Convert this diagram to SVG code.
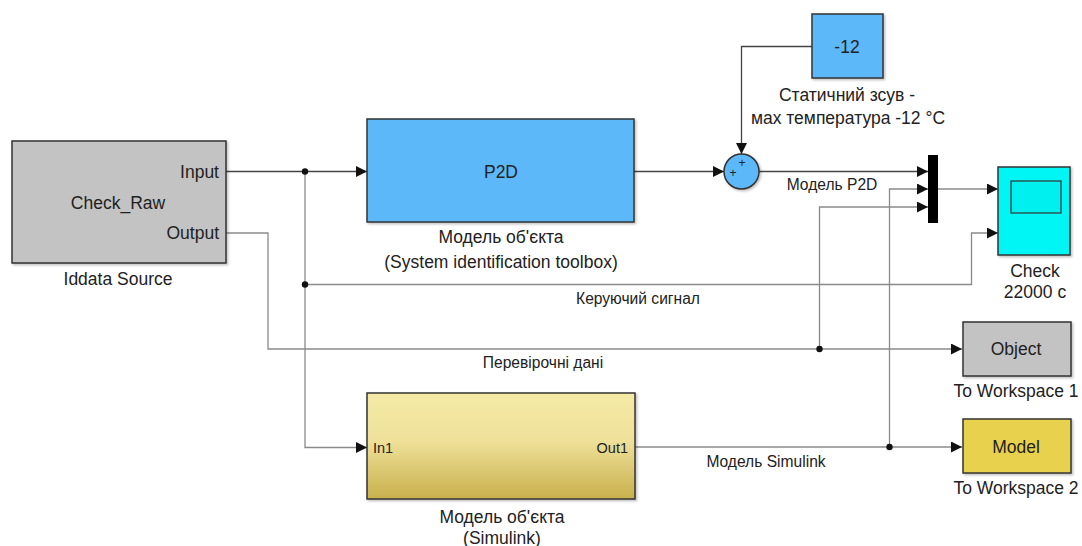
<svg xmlns="http://www.w3.org/2000/svg" width="1082" height="546" viewBox="0 0 1082 546">
<style>
  text { font-family: "Liberation Sans", Arial, sans-serif; fill: #222; }
  .lbl { font-size: 17.5px; }
  .sm { font-size: 15.6px; }
  .io { font-size: 14.5px; }
  .blk { stroke: #333; stroke-width: 1.5; }
  .wire { fill: none; stroke: #8a8a8a; stroke-width: 1.3; }
  .dark { stroke: #444; }
  .dot { fill: #111; }
</style>
<defs>
  <marker id="arr" markerUnits="userSpaceOnUse" markerWidth="11" markerHeight="11" refX="11" refY="5.5" orient="auto">
    <path d="M0,0 L11,5.5 L0,11 z" fill="#111"/>
  </marker>
  <linearGradient id="subsys" x1="0" y1="0" x2="0" y2="1">
    <stop offset="0" stop-color="#f4eaa6"/>
    <stop offset="0.45" stop-color="#efe19a"/>
    <stop offset="1" stop-color="#c8b04c"/>
  </linearGradient>
  <filter id="sh" x="-5%" y="-5%" width="115%" height="120%">
    <feDropShadow dx="1.5" dy="1.5" stdDeviation="1" flood-color="#000" flood-opacity="0.25"/>
  </filter>
</defs>

<g id="connectors">
  <path class="wire dark" d="M226,171.5 H367" marker-end="url(#arr)"/>
  <path class="wire" d="M305,171.5 V447.5 H367" marker-end="url(#arr)"/>
  <path class="wire" d="M305,284.5 H971.5 V233 H998" marker-end="url(#arr)"/>
  <path class="wire" d="M226,233 H268 V349 H962" marker-end="url(#arr)"/>
  <path class="wire" d="M819.5,349 V207 H928" marker-end="url(#arr)"/>
  <path class="wire dark" d="M634,171.5 H724" marker-end="url(#arr)"/>
  <path class="wire dark" d="M812,46.5 H741.5 V154" marker-end="url(#arr)"/>
  <path class="wire dark" d="M759,171.5 H928" marker-end="url(#arr)"/>
  <path class="wire" d="M938,189 H998" marker-end="url(#arr)"/>
  <path class="wire" d="M635,447 H962" marker-end="url(#arr)"/>
  <path class="wire" d="M889.5,447 V189 H928" marker-end="url(#arr)"/>
  <circle class="dot" cx="305" cy="171.5" r="3.2"/>
  <circle class="dot" cx="305" cy="284.5" r="3.2"/>
  <circle class="dot" cx="819.5" cy="349" r="3.2"/>
  <circle class="dot" cx="889.5" cy="447" r="3.2"/>
  <text class="sm" x="832" y="190" text-anchor="middle">Модель P2D</text>
  <text class="sm" x="638" y="304" text-anchor="middle">Керуючий сигнал</text>
  <text class="sm" x="543" y="368" text-anchor="middle">Перевірочні дані</text>
  <text class="sm" x="766" y="467" text-anchor="middle">Модель Simulink</text>
</g>

<g id="iddata">
  <rect class="blk" x="12" y="141" width="214" height="122" fill="#c3c3c3" filter="url(#sh)"/>
  <text class="lbl" x="219" y="178" text-anchor="end">Input</text>
  <text class="lbl" x="219" y="239" text-anchor="end">Output</text>
  <text class="lbl" x="118" y="209" text-anchor="middle">Check_Raw</text>
  <text class="lbl" x="118" y="285" text-anchor="middle">Iddata Source</text>
</g>

<g id="p2d">
  <rect class="blk" x="367" y="119" width="267" height="103" fill="#5cb8f8" filter="url(#sh)"/>
  <text class="lbl" x="501" y="178" text-anchor="middle">P2D</text>
  <text class="lbl" x="501" y="243" text-anchor="middle">Модель об'єкта</text>
  <text class="lbl" x="501" y="268" text-anchor="middle">(System identification toolbox)</text>
</g>

<g id="const">
  <rect class="blk" x="812" y="14" width="71" height="64" fill="#5cb8f8" filter="url(#sh)"/>
  <text class="lbl" x="847" y="53" text-anchor="middle">-12</text>
  <text class="lbl" x="847" y="101" text-anchor="middle">Статичний зсув -</text>
  <text class="lbl" x="848" y="124" text-anchor="middle">мах температура -12 °С</text>
</g>

<g id="sum">
  <circle class="blk" cx="741.5" cy="171.5" r="17.5" fill="#5cb8f8" filter="url(#sh)"/>
  <text x="742" y="167" font-size="12" text-anchor="middle">+</text>
  <text x="733" y="177" font-size="12" text-anchor="middle">+</text>
</g>

<g id="mux">
  <rect x="928" y="155" width="10" height="68" fill="#000"/>
</g>

<g id="scope">
  <rect class="blk" x="998" y="167" width="72" height="88" fill="#00f5f5" filter="url(#sh)"/>
  <rect x="1011" y="181" width="50" height="32" fill="#00f0f0" stroke="#333" stroke-width="1.2"/>
  <text class="lbl" x="1035" y="277" text-anchor="middle">Check</text>
  <text class="lbl" x="1035" y="298" text-anchor="middle">22000 с</text>
</g>

<g id="object">
  <rect class="blk" x="963" y="322" width="108" height="54" fill="#c3c3c3" filter="url(#sh)"/>
  <text class="lbl" x="1016" y="355" text-anchor="middle">Object</text>
  <text class="lbl" x="1016" y="397" text-anchor="middle">To Workspace 1</text>
</g>

<g id="model">
  <rect class="blk" x="963" y="419" width="108" height="54" fill="#e8d24e" filter="url(#sh)"/>
  <text class="lbl" x="1016" y="453" text-anchor="middle">Model</text>
  <text class="lbl" x="1016" y="494" text-anchor="middle">To Workspace 2</text>
</g>

<g id="simulink">
  <rect class="blk" x="367" y="393" width="268" height="106" fill="url(#subsys)" filter="url(#sh)"/>
  <text class="io" x="373" y="453">In1</text>
  <text class="io" x="628" y="453" text-anchor="end">Out1</text>
  <text class="lbl" x="502" y="523" text-anchor="middle">Модель об'єкта</text>
  <text class="lbl" x="502" y="544" text-anchor="middle">(Simulink)</text>
</g>
</svg>
